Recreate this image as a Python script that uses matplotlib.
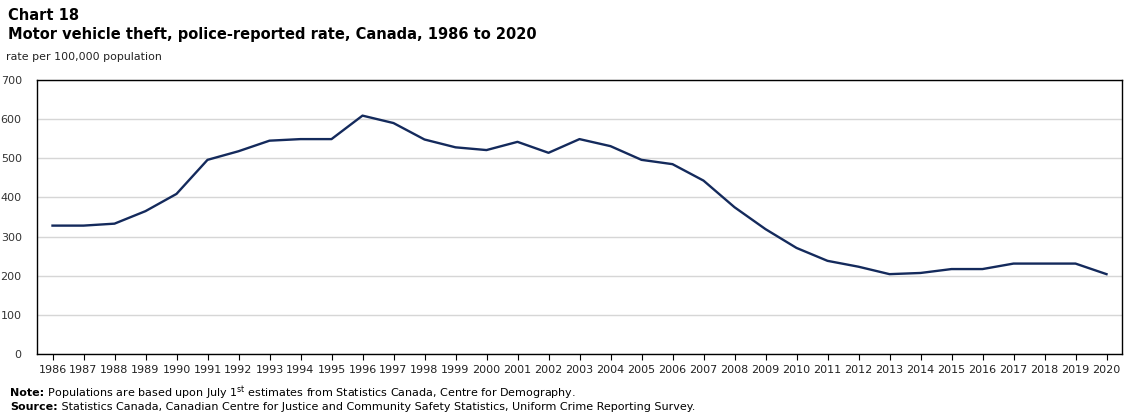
import matplotlib
matplotlib.use("Agg")
import matplotlib.pyplot as plt
from matplotlib.ticker import MultipleLocator

years = list(range(1986, 2021))
rates = [328, 328, 333, 365, 409, 496, 518, 545, 549, 549,
         609, 590, 548, 528, 521, 542, 514, 549, 531, 496,
         485, 443, 375, 319, 271, 238, 223, 204, 207, 217,
         217, 231, 231, 231, 204]

title_1 = "Chart 18"
title_2 = "Motor vehicle theft, police-reported rate, Canada, 1986 to 2020"
y_label = "rate per 100,000 population"
note_bold = "Note:"
note_text = " Populations are based upon July 1$^{\\mathrm{st}}$ estimates from Statistics Canada, Centre for Demography."
source_bold = "Source:"
source_text = " Statistics Canada, Canadian Centre for Justice and Community Safety Statistics, Uniform Crime Reporting Survey."

plt.rcParams['font.family'] = ['DejaVu Sans']
W, H = 1135, 417
fig = plt.figure(figsize=(W / 100, H / 100), dpi=100)
ax = fig.add_axes([37 / W, 1 - 354 / H, (1122 - 37) / W, (354 - 80) / H])

ax.plot(years, rates, color="#142a5c", lw=1.7, solid_joinstyle="round")
ax.set_xlim(1985.5, 2020.5)
ax.set_ylim(0, 700)
ax.yaxis.set_major_locator(MultipleLocator(100))
ax.set_xticks(years)
ax.set_xticklabels([str(y) for y in years], fontsize=8, color="#222222")
ax.tick_params(axis="y", length=0, labelsize=8, labelcolor="#333333", pad=11)
ax.tick_params(axis="x", length=4, width=0.8, direction="out", pad=4)
ax.grid(axis="y", color="#d6d6d6", lw=1)
ax.set_axisbelow(True)
for s in ax.spines.values():
    s.set_color("black")
    s.set_linewidth(1)

fig.text(8 / W, 1 - 15 / H, title_1, fontsize=10.5, fontweight="bold", va="center", ha="left")
fig.text(8 / W, 1 - 34 / H, title_2, fontsize=10.5, fontweight="bold", va="center", ha="left")
fig.text(6 / W, 1 - 57 / H, y_label, fontsize=7.9, va="center", ha="left", color="#222222")

renderer = fig.canvas.get_renderer()
def two_part(y, bold, rest):
    t = fig.text(10 / W, 1 - y / H, bold, fontsize=8, fontweight="bold", va="center", ha="left")
    bb = t.get_window_extent(renderer=renderer)
    fig.text(bb.x1 / W, 1 - y / H, rest, fontsize=8, va="center", ha="left")

two_part(393, note_bold, note_text)
two_part(407, source_bold, source_text)

fig.savefig("out.png", dpi=100)
